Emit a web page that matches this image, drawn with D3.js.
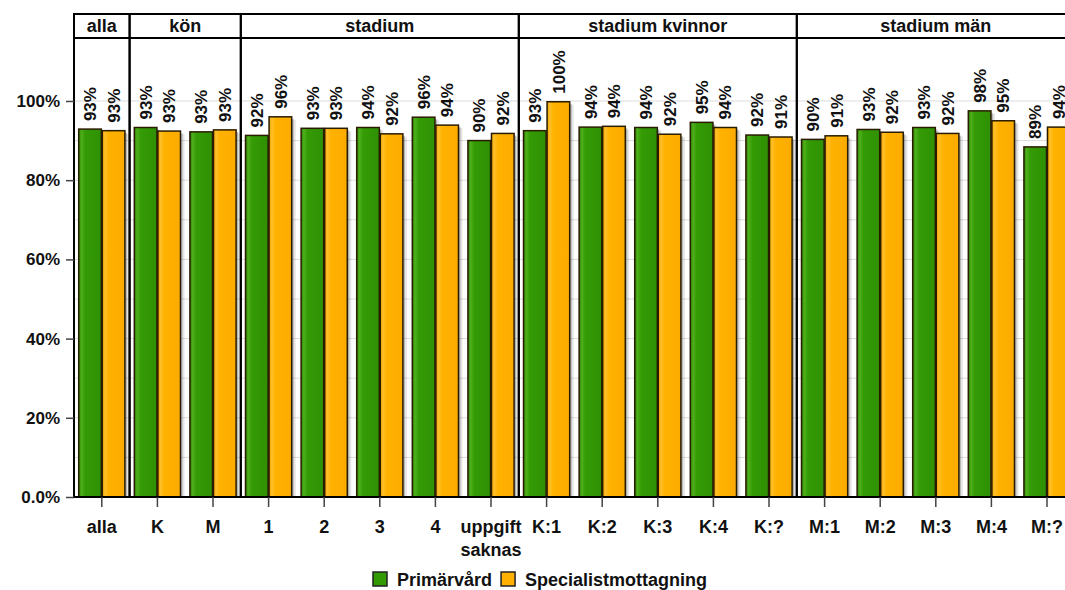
<!DOCTYPE html>
<html><head><meta charset="utf-8">
<script src="https://cdn.jsdelivr.net/npm/d3@7/dist/d3.min.js"></script>
<style>
body{margin:0;background:#fff;}
text{font-family:"Liberation Sans",Arial,Helvetica,sans-serif;font-weight:bold;fill:#111;}
</style></head><body>
<svg id="c" width="1065" height="590"></svg>
<script>
const categories = ["alla","K","M","1","2","3","4","uppgift saknas","K:1","K:2","K:3","K:4","K:?","M:1","M:2","M:3","M:4","M:?"];
const seriesNames = ["Primärvård","Specialistmottagning"];
const primarvard = [92.9,93.3,92.2,91.3,93.1,93.3,95.9,90.0,92.5,93.4,93.3,94.6,91.4,90.3,92.8,93.3,97.5,88.4];
const specialist = [92.5,92.4,92.7,96.0,93.1,91.7,93.9,91.8,99.8,93.6,91.6,93.3,90.9,91.2,92.1,91.8,95.0,93.4];
const primarvardLabels = ["93%","93%","93%","92%","93%","94%","96%","90%","93%","94%","94%","95%","92%","90%","93%","93%","98%","89%"];
const specialistLabels = ["93%","93%","93%","96%","93%","92%","94%","92%","100%","94%","92%","94%","91%","91%","92%","92%","95%","94%"];
const panelNames = ["alla","kön","stadium","stadium kvinnor","stadium män"];
const panelSizes = [1,2,5,5,5];
const yTickValues = [0,20,40,60,80,100];
const yTickLabels = ["0.0%","20%","40%","60%","80%","100%"];
const gridValues = [10,20,30,40,50,60,70,80,90,100];
const colors = ["#339a04","#ffb000"];

const svg = d3.select("#c");
const left = 74, stripTop = 14, stripBot = 38, bottom = 497, catW = 55.6;
const x = d3.scaleBand().domain(categories).range([left, left + catW*categories.length]).padding(0);
const xs = d3.scaleBand().domain(seriesNames).range([0, x.bandwidth()]).paddingInner(0.04).paddingOuter(0.2);
const y = d3.scaleLinear().domain([0, 115.9]).range([bottom, stripBot]);

const defs = svg.append("defs");
const gradStops = [
  [["0%","#2b8204"],["12%","#4fb01c"],["28%","#349b05"],["100%","#2f9004"]],
  [["0%","#f0a000"],["12%","#ffc02a"],["28%","#ffb200"],["100%","#fcab00"]]
];
gradStops.forEach((st,i)=>{
  const g = defs.append("linearGradient").attr("id","g"+i).attr("x1","0").attr("x2","1").attr("y1","0").attr("y2","0");
  st.forEach(s=>g.append("stop").attr("offset",s[0]).attr("stop-color",s[1]));
});

// gridlines
svg.append("g").selectAll("line").data(gridValues).join("line")
  .attr("x1",left).attr("x2",1065).attr("y1",d=>y(d)).attr("y2",d=>y(d))
  .attr("stroke","#dcdcdc").attr("stroke-width",1);

const series = [primarvard, specialist];
const labels = [primarvardLabels, specialistLabels];

// shadows
series.forEach((vals,si)=>{
  svg.append("g").selectAll("rect").data(vals).join("rect")
    .attr("x",(d,i)=>x(categories[i])+xs(seriesNames[si])+2)
    .attr("y",d=>y(d)+2).attr("width",xs.bandwidth()).attr("height",d=>bottom-y(d)-2)
    .attr("fill","#000").attr("opacity",0.22);
  svg.append("g").selectAll("rect").data(vals).join("rect")
    .attr("x",(d,i)=>x(categories[i])+xs(seriesNames[si])+4)
    .attr("y",d=>y(d)+3).attr("width",xs.bandwidth()).attr("height",d=>bottom-y(d)-3)
    .attr("fill","#000").attr("opacity",0.1);
});
// bars
series.forEach((vals,si)=>{
  svg.append("g").selectAll("rect").data(vals).join("rect")
    .attr("x",(d,i)=>x(categories[i])+xs(seriesNames[si]))
    .attr("y",d=>y(d)).attr("width",xs.bandwidth()).attr("height",d=>bottom-y(d))
    .attr("fill","url(#g"+si+")").attr("stroke","#2a1c00").attr("stroke-width",1.5);
});
// value labels
series.forEach((vals,si)=>{
  svg.append("g").selectAll("text").data(vals).join("text")
    .attr("transform",(d,i)=>`translate(${x(categories[i])+xs(seriesNames[si])+xs.bandwidth()/2},${y(d)-8}) rotate(-90)`)
    .attr("dy","0.36em").attr("text-anchor","start").style("font-size","17px")
    .text((d,i)=>labels[si][i]);
});

// panels + strips
let start = 0;
panelNames.forEach((name,pi)=>{
  const x0 = x(categories[start]);
  const x1 = x(categories[start+panelSizes[pi]-1]) + x.bandwidth();
  svg.append("rect").attr("x",x0).attr("y",stripTop).attr("width",x1-x0).attr("height",bottom-stripTop)
    .attr("fill","none").attr("stroke","#000").attr("stroke-width",2);
  svg.append("line").attr("x1",x0).attr("x2",x1).attr("y1",stripBot).attr("y2",stripBot)
    .attr("stroke","#000").attr("stroke-width",2);
  svg.append("text").attr("x",(x0+x1)/2).attr("y",(stripTop+stripBot)/2).attr("dy","0.36em")
    .attr("text-anchor","middle").style("font-size","18px").text(name);
  start += panelSizes[pi];
});

// y axis
const yAxis = svg.append("g").attr("transform",`translate(${left},0)`)
  .call(d3.axisLeft(y).tickValues(yTickValues).tickSize(8).tickPadding(6).tickFormat((d,i)=>yTickLabels[i]));
yAxis.select(".domain").remove();
yAxis.selectAll(".tick line").attr("stroke","#444").attr("stroke-width",1.5);
yAxis.selectAll(".tick text").style("font-size","17px").style("font-family",null).attr("fill","#111");

// x axis
const xAxis = svg.append("g").attr("transform",`translate(0,${bottom})`)
  .call(d3.axisBottom(x).tickSize(10).tickFormat(""));
xAxis.select(".domain").remove();
xAxis.selectAll(".tick line").attr("stroke","#444").attr("stroke-width",1.5);
const xl = svg.append("g").selectAll("text").data(categories).join("text")
  .attr("x",d=>x(d)+x.bandwidth()/2).attr("y",533).attr("text-anchor","middle").style("font-size","18px");
xl.each(function(d){
  const t = d3.select(this);
  const parts = d.split(" ");
  parts.forEach((p,k)=>t.append("tspan").attr("x",x(d)+x.bandwidth()/2).attr("dy",k?"1.25em":0).text(p));
});

// legend
const leg = svg.append("g").attr("transform","translate(373,572)");
let lx = 0;
seriesNames.forEach((n,i)=>{
  leg.append("rect").attr("x",lx).attr("y",0).attr("width",14).attr("height",14)
    .attr("fill",colors[i]).attr("stroke","#222").attr("stroke-width",1.5);
  const t = leg.append("text").attr("x",lx+24).attr("y",14).style("font-size","18px").text(n);
  lx += 24 + t.node().getComputedTextLength() + 9;
});
</script>
</body></html>
